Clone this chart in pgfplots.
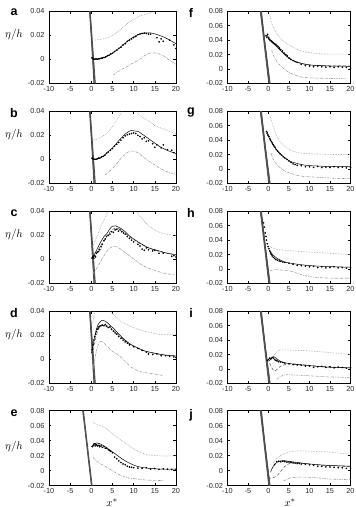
\documentclass[border=0pt]{standalone}
\usepackage{fontspec}
\setmainfont{Liberation Sans}
\usepackage{pgfplots}
\pgfplotsset{compat=1.18}
\pgfplotsset{
 panel/.style={scale only axis, anchor=south west, xmin=-10,xmax=20, xtick={-10,-5,0,5,10,15,20},
   tick align=inside, major tick length=2.5pt, axis line style={black, line width=0.6pt},
   every tick/.style={black, line width=0.5pt},
   ticklabel style={font=\fontsize{7.3}{8}\selectfont, text=black!85},
   yticklabel style={xshift=-1pt},
   xticklabel style={yshift=0.5pt},
   /pgf/number format/assume math mode=true, /pgf/number format/fixed, /pgf/number format/precision=2,
   scaled ticks=false},
 sm/.style={ymin=-0.02,ymax=0.04,ytick={-0.02,0,0.02,0.04}, height=72pt},
 lg/.style={ymin=-0.02,ymax=0.08,ytick={-0.02,0,0.02,0.04,0.06,0.08}},
 up/.style={gray!75, densely dotted, line width=0.6pt, no markers, smooth, tension=0.5},
 mid/.style={black, line width=0.5pt, no markers, smooth, tension=0.5},
 mid2/.style={black!70, densely dashed, line width=0.5pt, no markers, smooth, tension=0.5},
 low/.style={gray!75, dash pattern=on 2.5pt off 1pt on 0.6pt off 1pt, line width=0.6pt, no markers, smooth, tension=0.5},
 pts/.style={only marks, mark=*, mark size=0.6pt, black},
 wall/.style={black!70, line width=0.75pt, no markers},
}
\newcommand{\leftwall}{%
 \addplot[wall] coordinates {(-0.35,0.04)(0.85,-0.02)};
 \addplot[wall] coordinates {(-0.25,0.04)(0.95,-0.02)};
 \addplot[wall] coordinates {(-0.45,0.04)(0.7,-0.02)};
 \addplot[wall] coordinates {(-0.3,0.04)(0.6,-0.02)};
}
\newcommand{\rightwall}{%
 \addplot[wall] coordinates {(-1.9,0.08)(0.25,-0.02)};
 \addplot[wall] coordinates {(-2.0,0.08)(0.05,-0.02)};
 \addplot[wall] coordinates {(-1.8,0.08)(0.35,-0.02)};
 \addplot[wall] coordinates {(-1.7,0.08)(0.15,-0.02)};
 \addplot[wall] coordinates {(-1.95,0.08)(0.4,-0.02)};
}
\begin{document}
\begin{tikzpicture}
\useasboundingbox (0,0) rectangle (356pt,507pt);
% ---------- a ----------
\begin{axis}[panel, sm, at={(49pt,423.7pt)}, width=127pt]
\leftwall
\addplot[up] coordinates {(0.6,0.016)(2,0.0165)(3.9,0.018)(5.5,0.021)(7.25,0.0257)(9,0.031)(11.4,0.036)(13.5,0.038)(14.5,0.0395)};
\addplot[mid] coordinates {(0,0.002)(0.3,0.0005)(1,0)(2,0.0005)(3,0.0015)(4,0.003)(5,0.005)(6,0.0078)(7,0.0105)(8,0.0135)(9,0.0163)(10,0.0187)(11,0.0205)(12,0.0215)(13,0.022)(14,0.022)(15,0.0212)(16,0.02)(17,0.0187)(18,0.017)(19,0.015)(20,0.013)};
\addplot[pts] coordinates {(0.2,0.001)(0.5,0)(0.8,0)(1.1,0.0005)(1.4,0)(1.7,0.0005)(2,0.0005)(2.3,0.001)(2.6,0.001)(3,0.0015)(3.4,0.002)(3.8,0.003)(4.2,0.0035)(4.6,0.0045)(5,0.005)(5.5,0.0065)(6,0.0075)(6.5,0.009)(7,0.01)(7.5,0.012)(8,0.013)(8.5,0.015)(9,0.016)(9.5,0.017)(10,0.018)(10.5,0.019)(11,0.0205)(11.5,0.021)(12,0.0215)(12.5,0.022)(13,0.0215)(13.5,0.021)(14,0.021)(15.5,0.018)(16,0.0145)(16.5,0.017)(17,0.015)(18.5,0.016)(19.5,0.012)(20,0.009)};
\addplot[low] coordinates {(5.2,-0.013)(6,-0.011)(7,-0.0088)(8.1,-0.0068)(9,-0.0048)(10,-0.0028)(11,-0.001)(12,0.0015)(13,0.004)(14,0.0052)(15,0.0054)(16,0.0045)(17,0.003)(18,0.0005)(19,-0.002)(20,-0.004)};
\end{axis}
% ---------- b ----------
\begin{axis}[panel, sm, at={(49pt,323.7pt)}, width=127pt]
\leftwall
\addplot[up] coordinates {(0.4,0.016)(1.5,0.017)(2.5,0.019)(3.7,0.0216)(4.5,0.025)(5.5,0.03)(6.6,0.036)(7.3,0.04)(9,0.047)(10.8,0.04)(11.2,0.037)(12.5,0.034)(14,0.031)(15,0.028)(16.5,0.026)(18,0.024)(20,0.021)};
\addplot[mid] coordinates {(0,0.001)(0.5,0)(1,0)(1.5,0.0003)(2,0.001)(3,0.003)(3.7,0.0054)(5,0.0095)(6,0.0135)(7,0.0176)(8,0.021)(9,0.0235)(9.5,0.024)(10,0.0238)(11.2,0.023)(12,0.021)(13,0.0185)(14,0.016)(15,0.0135)(16,0.011)(17,0.009)(18,0.0073)(19,0.006)(20,0.0048)};
\addplot[pts] coordinates {(0.2,0.001)(0.5,0)(0.8,0)(1.1,0)(1.4,0.0005)(1.7,0.001)(2,0.001)(2.4,0.002)(2.8,0.0025)(3.2,0.0035)(3.6,0.005)(4,0.006)(4.5,0.0075)(5,0.009)(5.5,0.011)(6,0.0125)(6.5,0.014)(7,0.016)(7.5,0.018)(8,0.0195)(8.5,0.0205)(9,0.021)(9.5,0.0215)(10,0.022)(10.5,0.0215)(11,0.02)(11.5,0.019)(12,0.017)(12.5,0.018)(13,0.015)(13.5,0.0155)(14.5,0.013)(15,0.01)(15.5,0.012)(16.5,0.0095)(17,0.012)(18,0.008)(19,0.0075)(19.5,0.0055)};
\addplot[low] coordinates {(3.3,-0.013)(4,-0.011)(5,-0.0075)(6.2,-0.0027)(7,0.0008)(8,0.0045)(9.1,0.0068)(10,0.0068)(11,0.0055)(12,0.0027)(13,0)(14,-0.0025)(15.3,-0.0054)(16.5,-0.008)(18,-0.0105)(20,-0.0125)};
\end{axis}
% ---------- c ----------
\begin{axis}[panel, sm, at={(49pt,223.7pt)}, width=127pt]
\leftwall
\addplot[up] coordinates {(0.3,0.011)(1,0.016)(2,0.025)(3,0.033)(3.7,0.038)(4.2,0.042)(7.5,0.06)(10.6,0.042)(11.2,0.037)(12.5,0.032)(13.5,0.028)(15.2,0.024)(17,0.0215)(20,0.02)};
\addplot[mid2] coordinates {(0.3,0.001)(1,0.004)(2,0.01)(3,0.016)(4,0.021)(5,0.025)(5.8,0.026)(6.5,0.0255)(7.5,0.023)(9,0.019)(10.4,0.0155)(12,0.012)(14,0.009)(16,0.0065)(18,0.005)(20,0.0035)};
\addplot[mid] coordinates {(0,0.001)(0.3,0.002)(0.7,0.004)(1.3,0.008)(2,0.013)(3,0.019)(3.7,0.0216)(4.3,0.025)(5,0.0276)(5.7,0.0278)(6.3,0.027)(7,0.0257)(8,0.023)(9,0.0195)(10.4,0.016)(11.5,0.0135)(12.5,0.0115)(13.5,0.0095)(15,0.008)(16.5,0.0065)(18,0.005)(20,0.004)};
\addplot[pts] coordinates {(0.2,0.001)(0.4,0.002)(0.6,0.001)(0.8,0.003)(1,0.002)(1.2,0.005)(1.4,0.006)(1.7,0.0065)(2,0.008)(2.3,0.0105)(2.6,0.0125)(3,0.0155)(3.3,0.017)(3.6,0.019)(4,0.02)(4.4,0.021)(4.8,0.023)(5.2,0.0225)(5.6,0.0245)(6,0.025)(6.4,0.0235)(6.8,0.0245)(7.2,0.023)(7.6,0.022)(8,0.021)(8.5,0.019)(9,0.0175)(9.5,0.016)(10,0.0145)(11,0.0125)(11.5,0.011)(12,0.0085)(12.5,0.0075)(13,0.0095)(13.5,0.008)(14.5,0.007)(15,0.0075)(16,0.005)(17,0.005)(19,0.0025)(19.5,0.003)(20,0.002)};
\addplot[low] coordinates {(0.4,-0.012)(1,-0.009)(2,-0.003)(3,0.003)(4,0.008)(5,0.0105)(5.6,0.0108)(6.5,0.0095)(7.5,0.007)(9,0.003)(10.5,-0.001)(12,-0.005)(13.5,-0.0075)(15.3,-0.0095)(17,-0.0115)(19.6,-0.013)};
\end{axis}
% ---------- d ----------
\begin{axis}[panel, sm, at={(49pt,123.7pt)}, width=127pt]
\leftwall
\addplot[up] coordinates {(0.3,0.03)(0.6,0.036)(1,0.043)(2.5,0.06)(4.2,0.042)(5,0.038)(6,0.0345)(7,0.0315)(8,0.0295)(9.6,0.027)(11,0.025)(12.5,0.0235)(13.8,0.0225)(15,0.0215)(17,0.0205)(19.6,0.0205)(20,0.021)};
\addplot[mid2] coordinates {(0.3,0.004)(0.7,0.012)(1.2,0.02)(1.7,0.025)(2.3,0.0285)(3,0.029)(4,0.0275)(5,0.025)(6.5,0.02)(8,0.0155)(9.5,0.0115)(11,0.009)(13,0.0065)(15,0.005)(17,0.0038)(20,0.003)};
\addplot[mid] coordinates {(0,0.005)(0.3,0.01)(0.7,0.017)(1.2,0.025)(1.6,0.029)(2,0.031)(2.5,0.0325)(3,0.0322)(3.8,0.0305)(4.5,0.028)(5.3,0.0257)(6.5,0.021)(7.5,0.0175)(8.5,0.0145)(9.5,0.012)(11,0.0095)(12.5,0.007)(14.5,0.0054)(16.5,0.004)(18,0.0033)(20,0.0027)};
\addplot[pts] coordinates {(0.2,0.008)(0.4,0.012)(0.6,0.016)(0.8,0.019)(1,0.021)(1.2,0.023)(1.4,0.025)(1.6,0.026)(1.8,0.027)(2,0.0275)(2.3,0.028)(2.6,0.0285)(3,0.028)(3.3,0.029)(3.6,0.0275)(4,0.0265)(4.4,0.027)(4.8,0.025)(5.2,0.0235)(5.6,0.022)(6,0.021)(6.5,0.019)(7,0.0175)(7.5,0.016)(8,0.0145)(8.5,0.0135)(9,0.012)(10,0.0105)(11,0.009)(12,0.0075)(13,0.006)(13.5,0.0045)(14.5,0.004)(15.5,0.0045)(16.5,0.003)(17.5,0.003)(18.5,0.0025)(19.5,0.002)(20,0.0015)};
\addplot[low] coordinates {(0.3,-0.01)(0.7,-0.002)(1.2,0.007)(1.6,0.012)(2,0.0145)(2.4,0.015)(3,0.0135)(4,0.01)(5,0.0065)(6.2,0.004)(7.5,0)(8.5,-0.0035)(9.5,-0.0068)(11,-0.0095)(12.5,-0.011)(14.5,-0.012)(16,-0.013)(17,-0.0135)};
\end{axis}
% ---------- e ----------
\begin{axis}[panel, lg, at={(49pt,21.3pt)}, width=127pt, height=75pt]
\addplot[wall] coordinates {(-1.95,0.08)(0.1,-0.02)};
\addplot[wall] coordinates {(-1.85,0.08)(0.2,-0.02)};
\addplot[wall] coordinates {(-2.05,0.08)(0.0,-0.02)};
\addplot[up] coordinates {(0.4,0.064)(1.2,0.062)(2,0.06)(3,0.058)(4,0.054)(5,0.049)(6,0.045)(7,0.041)(8,0.037)(9,0.033)(10,0.029)(11.4,0.025)(12.5,0.0225)(13.5,0.021)(15.6,0.02)(17.5,0.0195)(20,0.02)};
\addplot[mid] coordinates {(0,0.032)(0.5,0.035)(1.3,0.037)(2,0.036)(3,0.033)(3.8,0.03)(5,0.025)(6,0.021)(7.2,0.016)(8.5,0.0115)(10,0.0075)(11.4,0.005)(13,0.0035)(15,0.0025)(17,0.002)(20,0.002)};
\addplot[pts] coordinates {(0.3,0.032)(0.5,0.034)(0.7,0.036)(0.9,0.033)(1.1,0.035)(1.3,0.034)(1.5,0.033)(1.8,0.034)(2,0.032)(2.3,0.033)(2.6,0.031)(3,0.032)(3.3,0.03)(3.6,0.03)(4,0.028)(4.3,0.027)(4.6,0.026)(5,0.024)(5.5,0.018)(6,0.016)(6.5,0.013)(7,0.011)(7.5,0.009)(8,0.008)(8.5,0.006)(9,0.005)(9.5,0.0045)(10,0.004)(11,0.0035)(12,0.003)(13,0.004)(14,0.002)(15,0.003)(16,0.002)(17,0.0025)(18,0.002)(19,0.0015)(20,0.002)};
\addplot[low] coordinates {(0.4,0.018)(1,0.014)(2,0.01)(3,0.0065)(3.8,0.004)(5,0)(6,-0.0035)(7.2,-0.007)(8.5,-0.0095)(10,-0.0105)(11.4,-0.0115)(13,-0.0125)(15.6,-0.013)(17,-0.013)};
\end{axis}
% ---------- f ----------
\begin{axis}[panel, lg, at={(227.5pt,423.7pt)}, width=123pt, height=72pt]
\rightwall
\addplot[up] coordinates {(0.3,0.075)(0.6,0.067)(1,0.06)(1.5,0.054)(2,0.049)(3,0.042)(4.5,0.035)(6,0.03)(7,0.027)(8.6,0.024)(10,0.0225)(11.5,0.0215)(12.8,0.021)(15,0.0205)(20,0.0205)};
\addplot[mid2] coordinates {(0,0.045)(0.5,0.041)(1,0.038)(2,0.032)(3,0.026)(4.5,0.018)(6,0.012)(8,0.0075)(10,0.0055)(13,0.0045)(20,0.004)};
\addplot[mid] coordinates {(-0.4,0.049)(0,0.042)(0.5,0.039)(1,0.036)(2,0.031)(3,0.025)(4.5,0.017)(6,0.0115)(7.8,0.008)(9.5,0.006)(11,0.005)(12.8,0.0045)(15,0.004)(20,0.0036)};
\addplot[pts] coordinates {(-0.6,0.046)(-0.4,0.044)(-0.2,0.048)(0,0.043)(0.2,0.041)(0.4,0.04)(0.6,0.039)(0.8,0.038)(1,0.037)(1.2,0.036)(1.5,0.035)(1.8,0.034)(2.1,0.032)(2.4,0.031)(2.7,0.029)(3,0.027)(3.4,0.025)(3.8,0.022)(4.2,0.02)(4.6,0.018)(5,0.015)(5.5,0.013)(6,0.0115)(6.5,0.01)(7,0.009)(8,0.0065)(9,0.0045)(10,0.004)(11,0.003)(12,0.004)(13,0.003)(14,0.0025)(15,0.003)(16,0.002)(17,0.003)(18,0.0025)(19,0.002)(20,0.001)};
\addplot[low] coordinates {(0.8,0.026)(1.2,0.019)(2,0.0105)(3,0.004)(4.5,-0.003)(6,-0.0075)(7.8,-0.011)(9.5,-0.0122)(12.8,-0.013)(15,-0.0133)(19,-0.0136)};
\end{axis}
% ---------- g ----------
\begin{axis}[panel, lg, at={(227.5pt,323.7pt)}, width=123pt, height=72pt]
\rightwall
\addplot[up] coordinates {(0.4,0.074)(0.8,0.065)(1.3,0.057)(2,0.045)(3,0.037)(4,0.031)(5.3,0.026)(7,0.023)(8.5,0.0215)(10.3,0.021)(13,0.0205)(16,0.02)(20,0.02)};
\addplot[mid] coordinates {(-0.5,0.05)(0,0.045)(0.5,0.04)(1,0.035)(2,0.026)(3,0.02)(4,0.0155)(5.3,0.0105)(7,0.0075)(8.5,0.0055)(10.3,0.0045)(14,0.0035)(20,0.003)};
\addplot[pts] coordinates {(-0.5,0.052)(-0.3,0.05)(-0.1,0.047)(0.1,0.045)(0.3,0.042)(0.5,0.04)(0.7,0.038)(0.9,0.036)(1.1,0.034)(1.3,0.032)(1.6,0.03)(1.9,0.027)(2.2,0.025)(2.5,0.023)(2.8,0.021)(3.2,0.019)(3.6,0.017)(4,0.015)(4.5,0.013)(5,0.011)(5.5,0.009)(6,0.007)(6.5,0.006)(7,0.005)(8,0.0045)(9,0.003)(10,0.003)(11,0.002)(12,0.0035)(13,0.002)(14,0.0025)(15,0.002)(16,0.003)(17,0.002)(18,0.0025)(19,0.0015)(20,0.002)};
\addplot[low] coordinates {(0.6,0.022)(1,0.015)(1.5,0.01)(2,0.006)(3,0.001)(4,-0.003)(5.3,-0.006)(7,-0.009)(8.5,-0.0105)(10.3,-0.011)(13,-0.012)(16,-0.013)(20,-0.0136)};
\end{axis}
% ---------- h ----------
\begin{axis}[panel, lg, at={(227.5pt,223.7pt)}, width=123pt, height=72pt]
\rightwall
\addplot[up] coordinates {(0.4,0.031)(1,0.029)(2,0.027)(4,0.026)(6,0.025)(8.6,0.024)(11,0.023)(14.4,0.022)(17,0.021)(20,0.02)};
\addplot[mid] coordinates {(0.2,0.026)(0.6,0.023)(1,0.02)(2,0.015)(3,0.012)(4,0.0095)(5.3,0.008)(7,0.0065)(8.5,0.0055)(10.3,0.0045)(14,0.0033)(20,0.0023)};
\addplot[pts] coordinates {(-1.2,0.064)(-1,0.058)(-0.8,0.05)(-0.6,0.045)(-0.5,0.04)(-0.3,0.035)(-0.1,0.031)(0.1,0.028)(0.3,0.025)(0.5,0.022)(0.7,0.02)(0.9,0.018)(1.2,0.016)(1.5,0.0145)(1.8,0.013)(2.2,0.012)(2.6,0.011)(3,0.0105)(3.5,0.0095)(4,0.009)(5,0.008)(6,0.0065)(7,0.005)(8,0.0045)(9,0.004)(10,0.003)(11,0.0035)(12,0.002)(13,0.003)(14,0.0015)(15,0.002)(16,0.003)(17,0.0015)(18,0.002)(19,0.001)(20,0.0015)};
\addplot[low] coordinates {(0.4,-0.003)(1,-0.0015)(2,-0.001)(3,-0.0015)(4,-0.002)(5.3,-0.003)(6.5,-0.005)(8,-0.008)(10.3,-0.011)(13,-0.0123)(16,-0.013)(20,-0.013)};
\end{axis}
% ---------- i ----------
\begin{axis}[panel, lg, at={(227.5pt,123.7pt)}, width=123pt, height=72pt]
\rightwall
\addplot[up] coordinates {(0.8,0.014)(1.5,0.02)(2.2,0.0245)(2.9,0.026)(4,0.0265)(6,0.026)(8.6,0.0255)(11,0.0245)(14.4,0.023)(17,0.0215)(20,0.02)};
\addplot[mid2] coordinates {(0.3,0.008)(0.8,0.0014)(1.5,-0.003)(2.2,0)(2.9,0.0036)(4,0.006)(6,0.007)(9,0.0055)(14,0.003)(20,0.0015)};
\addplot[mid] coordinates {(0,0.0105)(0.5,0.013)(1.2,0.017)(1.8,0.015)(2.9,0.0105)(4,0.0085)(5.5,0.007)(7,0.006)(10,0.0045)(13,0.003)(16,0.002)(20,0.0014)};
\addplot[pts] coordinates {(-0.3,0.012)(0,0.013)(0.3,0.015)(0.6,0.014)(0.9,0.016)(1.2,0.015)(1.5,0.013)(1.8,0.012)(2.1,0.011)(2.5,0.01)(3,0.0095)(3.5,0.009)(4,0.008)(5,0.007)(6,0.006)(7,0.0055)(8,0.005)(9,0.004)(10,0.004)(11,0.002)(12,0.003)(13,0.0035)(14,0.002)(15,0.003)(16,0.0015)(17,0.0025)(18,0.002)(19,0.001)(20,0.0015)};
\addplot[low] coordinates {(2,-0.0145)(2.8,-0.011)(3.5,-0.009)(4.5,-0.008)(6,-0.0085)(8.6,-0.009)(11,-0.01)(14.4,-0.011)(17,-0.0115)(20,-0.012)};
\end{axis}
% ---------- j ----------
\begin{axis}[panel, lg, at={(227.5pt,21.3pt)}, width=123pt, height=75pt]
\rightwall
\addplot[up] coordinates {(1.2,0.011)(2,0.016)(2.9,0.02)(4,0.023)(5,0.025)(6.2,0.026)(8,0.0265)(10.3,0.026)(12,0.0255)(14.4,0.025)(17,0.0235)(20,0.022)};
\addplot[mid2] coordinates {(0,-0.008)(0.4,-0.01)(1,-0.0095)(2,-0.007)(2.8,-0.002)(3.7,0.004)(4.5,0.008)(5.5,0.01)(7,0.0105)(10,0.009)(14,0.007)(20,0.0055)};
\addplot[mid] coordinates {(0.5,-0.002)(0.8,0.002)(1.3,0.007)(2,0.011)(2.8,0.013)(3.7,0.0135)(5,0.0125)(7,0.011)(9,0.0095)(11.9,0.008)(15,0.007)(20,0.006)};
\addplot[pts] coordinates {(1.5,0.008)(2,0.012)(2.5,0.0125)(3,0.012)(3.5,0.0125)(4,0.012)(4.5,0.0115)(5,0.0115)(5.5,0.011)(6,0.0105)(6.5,0.01)(7,0.0095)(7.5,0.0095)(8,0.009)(9,0.0085)(10,0.008)(11,0.007)(12,0.006)(13,0.006)(14,0.005)(15,0.005)(16,0.0045)(17,0.004)(18,0.004)(19,0.003)(20,0.0035)};
\addplot[low] coordinates {(3.7,-0.0135)(4.5,-0.0115)(5.3,-0.0095)(6.2,-0.009)(8,-0.0085)(10.3,-0.009)(12,-0.0095)(14.4,-0.011)(17,-0.0115)(20,-0.012)};
\end{axis}
% ---------- labels ----------
\foreach \l/\x/\y in {a/14/494.3, b/14/394.3, c/14/294.3, d/14/194.3, e/14/94, f/191/494.3, g/191/394.3, h/191/294.3, i/191/194.3, j/191/92}
  \node[font=\bfseries\fontsize{12.5}{13}\selectfont] at (\x pt,\y pt) {\l};
\foreach \y in {472, 372, 272, 172, 60}
  \node[font=\fontsize{11}{12}\selectfont] at (14pt,\y pt) {$\eta/h$};
\node[font=\fontsize{11}{12}\selectfont, inner sep=0pt, anchor=south] at (112pt,0.5pt) {$x^*$};
\node[font=\fontsize{11}{12}\selectfont, inner sep=0pt, anchor=south] at (290pt,0.5pt) {$x^*$};
\end{tikzpicture}
\end{document}
